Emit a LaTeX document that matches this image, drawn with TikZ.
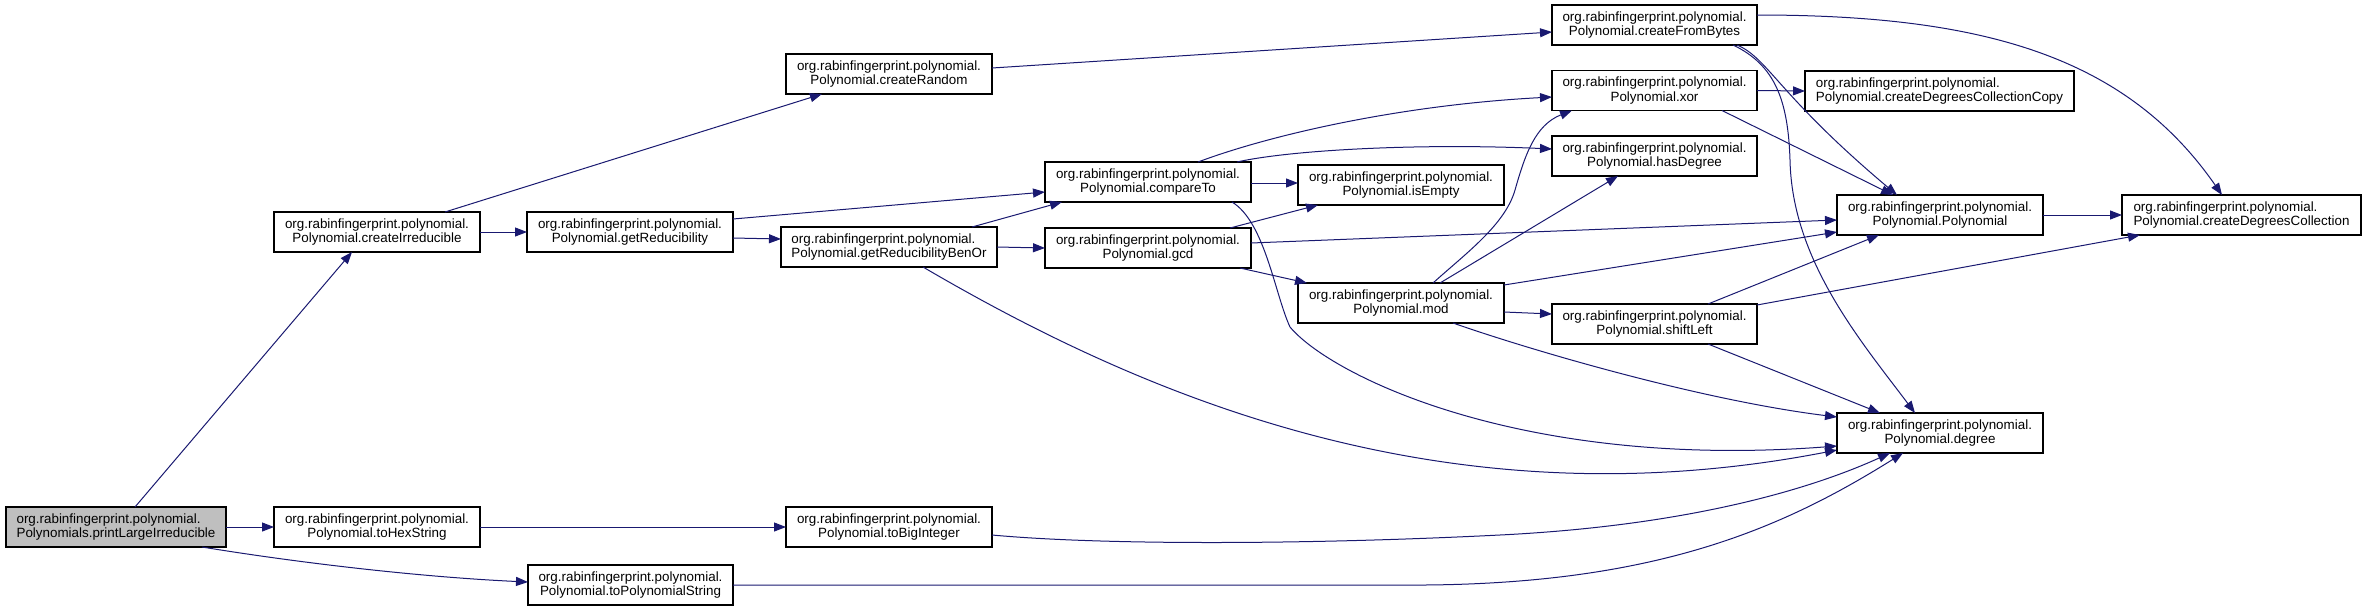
\documentclass[tikz,border=0pt]{standalone}
\usepackage{fontspec}
\setmainfont{Liberation Sans}
\usetikzlibrary{arrows.meta,calc}
\definecolor{edgeblue}{RGB}{25,25,112}
\definecolor{nodegray}{RGB}{191,191,191}
\begin{document}
\begin{tikzpicture}[x=1pt,y=-1pt,
  box/.style={draw=black, line width=1.1pt, fill=white, inner sep=0pt, outer sep=0pt,
    minimum height=40pt, font=\fontsize{13.4}{14.3}\selectfont, align=center},
  call/.style={draw=edgeblue, line width=1pt, -{Triangle[length=12pt,width=9pt]}, edgeblue},
]
\useasboundingbox (0,0) rectangle (2365,611);

\node[box, fill=nodegray, minimum width=220pt, align=left] (P) at (116,527) {org.rabinfingerprint.polynomial.\\Polynomials.printLargeIrreducible};
\node[box, minimum width=206pt] (H) at (377,527) {org.rabinfingerprint.polynomial.\\Polynomial.toHexString};
\node[box, minimum width=206pt] (CI) at (377,232) {org.rabinfingerprint.polynomial.\\Polynomial.createIrreducible};
\node[box, minimum width=206pt] (GR) at (630,232) {org.rabinfingerprint.polynomial.\\Polynomial.getReducibility};
\node[box, minimum width=205pt] (TPS) at (630.5,585) {org.rabinfingerprint.polynomial.\\Polynomial.toPolynomialString};
\node[box, minimum width=206pt] (CR) at (889,74) {org.rabinfingerprint.polynomial.\\Polynomial.createRandom};
\node[box, minimum width=216pt, align=left] (GB) at (889,247) {org.rabinfingerprint.polynomial.\\Polynomial.getReducibilityBenOr};
\node[box, minimum width=206pt] (TBI) at (889,527) {org.rabinfingerprint.polynomial.\\Polynomial.toBigInteger};
\node[box, minimum width=206pt] (CT) at (1148,182) {org.rabinfingerprint.polynomial.\\Polynomial.compareTo};
\node[box, minimum width=206pt] (GCD) at (1148,248) {org.rabinfingerprint.polynomial.\\Polynomial.gcd};
\node[box, minimum width=206pt] (IE) at (1401,185) {org.rabinfingerprint.polynomial.\\Polynomial.isEmpty};
\node[box, minimum width=206pt] (MOD) at (1401,303) {org.rabinfingerprint.polynomial.\\Polynomial.mod};
\node[box, minimum width=205pt] (CFB) at (1654.5,25) {org.rabinfingerprint.polynomial.\\Polynomial.createFromBytes};
\node[box, minimum width=205pt] (XOR) at (1654.5,90.5) {org.rabinfingerprint.polynomial.\\Polynomial.xor};
\node[box, minimum width=205pt] (HD) at (1654.5,156) {org.rabinfingerprint.polynomial.\\Polynomial.hasDegree};
\node[box, minimum width=205pt] (SL) at (1654.5,324) {org.rabinfingerprint.polynomial.\\Polynomial.shiftLeft};
\node[box, minimum width=269pt, align=left] (CDCC) at (1939.5,91) {org.rabinfingerprint.polynomial.\\Polynomial.createDegreesCollectionCopy};
\node[box, minimum width=206pt] (PP) at (1940,215) {org.rabinfingerprint.polynomial.\\Polynomial.Polynomial};
\node[box, minimum width=206pt] (DEG) at (1940,433) {org.rabinfingerprint.polynomial.\\Polynomial.degree};
\node[box, minimum width=239pt, align=left] (CDC) at (2241.5,215) {org.rabinfingerprint.polynomial.\\Polynomial.createDegreesCollection};

% printLargeIrreducible
\draw[call] ($(P.north west)+(129,0)$) -- ($(CI.south west)+(78,0)$);
\draw[call] (P.east) -- (H.west);
\draw[call] ($(P.south west)+(196,0)$) .. controls (300,563) and (420,577) .. ($(TPS.west)+(0,-3)$);
% createIrreducible
\draw[call] ($(CI.north west)+(171,0)$) -- ($(CR.south west)+(36,0)$);
\draw[call] (CI.east) -- (GR.west);
% getReducibility
\draw[call] ($(GR.north east)+(0,7)$) -- ($(CT.west)+(0,10)$);
\draw[call] ($(GR.east)+(0,6)$) -- ($(GB.west)+(0,-8)$);
% createRandom
\draw[call] ($(CR.east)+(0,-6)$) -- ($(CFB.west)+(0,7)$);
% getReducibilityBenOr
\draw[call] ($(GB.north west)+(191,0)$) -- ($(CT.south west)+(17,0)$);
\draw[call] (GB.east) -- (GCD.west);
\draw[call] ($(GB.south west)+(142,0)$) .. controls (1150,400) and (1450,525) .. ($(DEG.west)+(0,17)$);
% compareTo
\draw[call] ($(CT.east)+(0,1)$) -- ($(IE.west)+(0,-2)$);
\draw[call] ($(CT.north west)+(153,0)$) .. controls (1270,135) and (1400,105) .. ($(XOR.west)+(0,6.5)$);
\draw[call] ($(CT.north west)+(192,0)$) .. controls (1290,150) and (1420,143) .. ($(HD.west)+(0,-7)$);
\draw[call] ($(CT.south west)+(187,0)$) .. controls (1265,222) and (1275,295) .. (1290,327) .. controls (1330,375) and (1520,470) .. ($(DEG.west)+(0,13)$);
% gcd
\draw[call] ($(GCD.north west)+(185,0)$) -- ($(IE.south west)+(20,0)$);
\draw[call] ($(GCD.east)+(0,-5)$) -- ($(PP.west)+(0,5)$);
\draw[call] ($(GCD.south west)+(195,0)$) -- ($(MOD.north west)+(9,0)$);
% mod
\draw[call] ($(MOD.north west)+(135,0)$) .. controls (1465,254) and (1505,225) .. (1515,190) .. controls (1525,155) and (1535,125) .. ($(XOR.south west)+(20,0)$);
\draw[call] ($(MOD.north west)+(142,0)$) -- ($(HD.south west)+(66,0)$);
\draw[call] ($(MOD.north east)+(0,2)$) -- ($(PP.south west)+(0,-3)$);
\draw[call] ($(MOD.east)+(0,9)$) -- ($(SL.west)+(0,-10)$);
\draw[call] ($(MOD.south west)+(155,0)$) .. controls (1530,350) and (1700,400) .. ($(DEG.west)+(0,-16)$);
% shiftLeft
\draw[call] ($(SL.north west)+(156,0)$) -- ($(PP.south west)+(42,0)$);
\draw[call] ($(SL.north east)+(0,1)$) -- ($(CDC.south west)+(18,0)$);
\draw[call] ($(SL.south west)+(156,0)$) -- ($(DEG.north west)+(43,0)$);
% xor
\draw[call] (XOR.east) -- (CDCC.west);
\draw[call] ($(XOR.south west)+(170,0)$) -- ($(PP.north west)+(56,0)$);
% createFromBytes
\draw[call] ($(CFB.south west)+(185,0)$) .. controls (1768,58) and (1778,95) .. ($(PP.north west)+(60,0)$);
\draw[call] ($(CFB.east)+(0,-10)$) .. controls (1980,15) and (2125,55) .. ($(CDC.north west)+(100,0)$);
\draw[call] ($(CFB.south west)+(181,0)$) .. controls (1775,65) and (1788,100) .. (1790,160) .. controls (1792,260) and (1860,340) .. ($(DEG.north west)+(78,0)$);
% Polynomial
\draw[call] (PP.east) -- (CDC.west);
% toHexString
\draw[call] (H.east) -- (TBI.west);
% toBigInteger
\draw[call] ($(TBI.east)+(0,8)$) .. controls (1100,545) and (1300,545) .. (1500,535) .. controls (1700,525) and (1820,485) .. ($(DEG.south west)+(53,0)$);
% toPolynomialString
\draw[call] (TPS.east) -- (1400,585) .. controls (1650,587) and (1780,530) .. ($(DEG.south west)+(66,0)$);
\end{tikzpicture}
\end{document}
